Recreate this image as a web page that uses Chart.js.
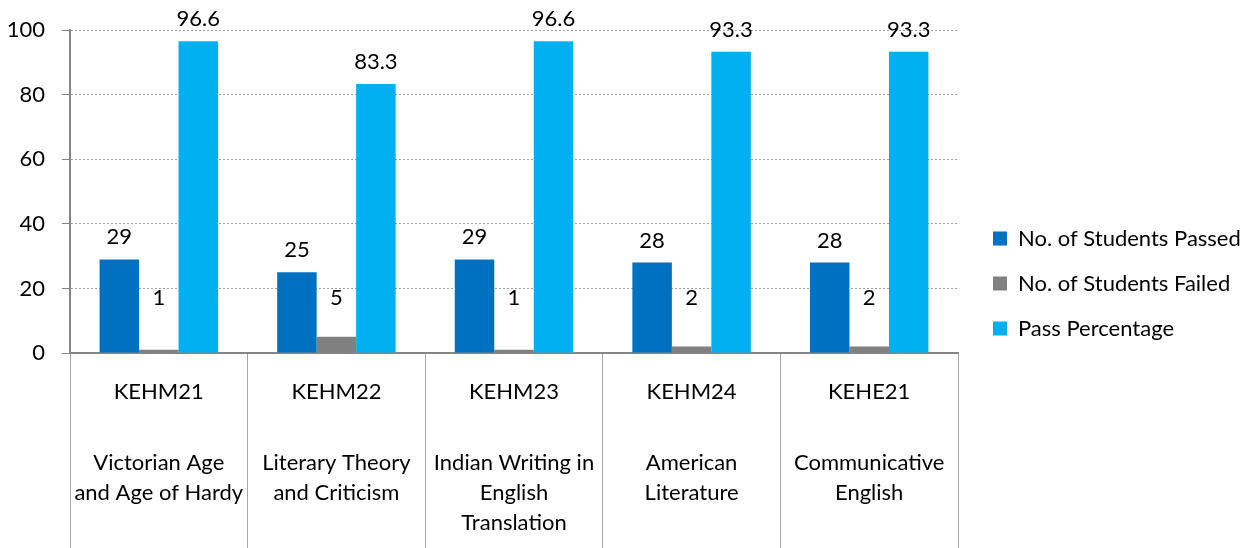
<!DOCTYPE html>
<html>
<head>
<meta charset="utf-8">
<script src="https://cdn.jsdelivr.net/npm/chart.js@4"></script>
<style>
  html, body { margin: 0; padding: 0; background: #fff; }
  #wrap { width: 1254px; height: 548px; position: relative; }
</style>
</head>
<body>
<div id="wrap"><canvas id="resultChart"></canvas></div>
<script>
// course codes and names under each group
const courseCodes = ["KEHM21", "KEHM22", "KEHM23", "KEHM24", "KEHE21"];
const courseNames = [
    ["Victorian Age", "and Age of Hardy"],
    ["Literary Theory", "and Criticism"],
    ["Indian Writing in", "English", "Translation"],
    ["American", "Literature"],
    ["Communicative", "English"]
];

// series values
const studentsPassed = [29, 25, 29, 28, 28];
const studentsFailed = [1, 5, 1, 2, 2];
const passPercentage = [96.6, 83.3, 96.6, 93.3, 93.3];

const yTicks = [0, 20, 40, 60, 80, 100];

const fontFamily = "Lato, 'Open Sans', sans-serif";
const fontSize = 22;

// Draws the two-level category labels and the values above the bars
const labelsPlugin = {
    id: "labelsPlugin",
    beforeLayout(chart) {
        // legend takes the rest of the width to the right of the plot
        const legend = chart.legend;
        if (legend && !legend._fitWrapped) {
            const origFit = legend.fit;
            legend.fit = function() {
                origFit.call(this);
                this.width = 296;
            };
            legend._fitWrapped = true;
        }
    },
    afterLayout(chart) {
        const legend = chart.legend;
        legend.left += 12;
        legend.right += 12;
        legend.top -= 5;
        legend.bottom -= 5;
    },
    afterDatasetsDraw(chart) {
        const ctx = chart.ctx;
        const xScale = chart.scales.x;
        const yScale = chart.scales.y;
        ctx.save();
        ctx.fillStyle = "#000";
        ctx.textAlign = "center";
        ctx.textBaseline = "middle";
        ctx.font = fontSize + "px " + fontFamily;

        chart.data.datasets.forEach((ds, di) => {
            const meta = chart.getDatasetMeta(di);
            meta.data.forEach((bar, i) => {
                let y = bar.y - 22;
                if (di === 1) y = Math.min(y, yScale.getPixelForValue(17));
                ctx.fillText(String(ds.data[i]), bar.x, y);
            });
        });

        const base = chart.chartArea.bottom;
        courseCodes.forEach((code, i) => {
            const x = xScale.getPixelForValue(i);
            ctx.fillText(code, x, base + 39);
            courseNames[i].forEach((line, j) => {
                ctx.fillText(line, x, base + 110 + j * 30);
            });
        });
        ctx.restore();
    }
};

const ctx = document.getElementById("resultChart").getContext("2d");
new Chart(ctx, {
    type: "bar",
    data: {
        labels: courseCodes,
        datasets: [
            { label: "No. of Students Passed", data: studentsPassed, backgroundColor: "#0070C0" },
            { label: "No. of Students Failed", data: studentsFailed, backgroundColor: "#808080" },
            { label: "Pass Percentage", data: passPercentage, backgroundColor: "#00B0F0" }
        ]
    },
    options: {
        responsive: true,
        maintainAspectRatio: false,
        animation: false,
        layout: { padding: { left: 0, top: 29, right: 0, bottom: 0 } },
        datasets: { bar: { categoryPercentage: 0.667, barPercentage: 1.0 } },
        scales: {
            x: {
                grid: {
                    offset: true,
                    drawOnChartArea: false,
                    tickLength: 195,
                    color: "#A6A6A6",
                    lineWidth: 1
                },
                border: { color: "#868686", width: 2 },
                ticks: { display: false }
            },
            y: {
                min: 0,
                max: 100,
                afterBuildTicks(axis) {
                    axis.ticks = yTicks.map(v => ({ value: v }));
                },
                afterFit(axis) {
                    axis.width = 70;
                },
                grid: {
                    color: (c) => c.tick && c.tick.value === 0 ? "rgba(0,0,0,0)" : "#A0A0A0",
                    tickColor: "#868686",
                    tickLength: 8,
                    tickBorderDash: [],
                    lineWidth: 1
                },
                border: { color: "#868686", width: 2, dash: [2, 2] },
                ticks: {
                    color: "#000",
                    padding: 17,
                    font: { size: fontSize, family: fontFamily }
                }
            }
        },
        plugins: {
            legend: {
                position: "right",
                labels: {
                    color: "#000",
                    boxWidth: 14,
                    boxHeight: 14,
                    padding: 23,
                    font: { size: fontSize, family: fontFamily }
                }
            },
            tooltip: { enabled: false }
        }
    },
    plugins: [labelsPlugin]
});
</script>
</body>
</html>
